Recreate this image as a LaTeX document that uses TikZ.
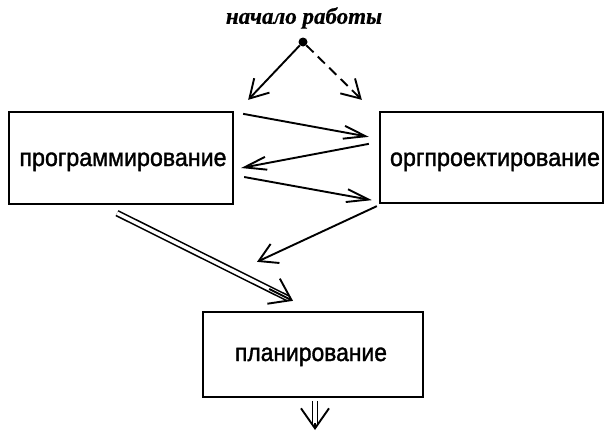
\documentclass[tikz,border=0pt]{standalone}
\usepackage{fontspec}
\setmainfont{Liberation Sans}
\newfontfamily\boxfont{Liberation Sans}[FakeBold=1.5]
\newfontfamily\titlefont{Liberation Serif}[FakeBold=0.6]
\usetikzlibrary{arrows.meta}

\tikzset{
  blockbox/.style={draw, line width=2.3pt, rectangle, inner sep=0pt, minimum width=#1},
  blocktext/.style={inner sep=0pt},
  flow/.style={line width=1.9pt, -{Straight Barb[length=22pt,width=13pt,line width=1.9pt]}},
  wideflow/.style={line width=1.9pt, -{Straight Barb[length=18pt,width=21pt,line width=1.9pt]}},
  flowdash/.style={wideflow, dash pattern=on 10pt off 6pt},
  dblshaft/.style={double, double distance=3.5pt, line width=1.6pt, shorten >=6pt},
  dblhead/.style={line width=1.9pt, shorten <=#1, -{Straight Barb[length=20pt,width=28pt,line width=1.9pt]}},
}

\newcommand{\boxlabel}[2]{\resizebox{#1}{13.5pt}{\boxfont #2}}

\begin{document}
\begin{tikzpicture}[x=1pt, y=-1pt]
  \useasboundingbox (0,0) rectangle (606,431);

  % title and start point
  \node[blocktext] (title) at (304,18) {\titlefont\bfseries\itshape\fontsize{23}{26}\selectfont начало работы};
  \node[circle, fill, inner sep=0pt, minimum size=9pt] (start) at (303,42) {};

  % the three activity blocks
  \node[blockbox=224pt, minimum height=92pt] (prog) at (121,158) {};
  \node[blockbox=223pt, minimum height=91pt] (org) at (491.5,157.5) {};
  \node[blockbox=220pt, minimum height=85pt] (plan) at (313,354.5) {};

  \node[blocktext, anchor=base] (progtxt) at (123,166) {\boxlabel{207pt}{программирование}};
  \node[blocktext, anchor=base] (orgtxt) at (495,166) {\boxlabel{210pt}{оргпроектирование}};
  \node[blocktext, anchor=base] (plantxt) at (311,361) {\boxlabel{152pt}{планирование}};

  % free ends
  \coordinate (leftend) at ([shift={(14,-11)}]prog.north east);
  \coordinate (rightend) at ([shift={(-17,-11)}]org.north west);
  \coordinate (outend) at (315,430);

  % connectors
  \draw[wideflow] (start) -- (leftend);
  \draw[flowdash] (start) -- (rightend);

  \draw[flow] ([shift={(9,3)}]prog.north east) -- ([shift={(-10,26)}]org.north west);
  \draw[flow] ([shift={(-10,33)}]org.north west) -- ([shift={(7,10)}]prog.east);
  \draw[flow] ([shift={(10,19)}]prog.east) -- ([shift={(-7,-4)}]org.south west);
  \draw[wideflow] ([shift={(-2,2)}]org.south west) -- ([shift={(-56,-49)}]plan.north);

  % double arrows: shaft, then the open head on top of it
  \draw[dblshaft] ([shift={(-4,8)}]prog.south) -- ([shift={(-20,-10)}]plan.north);
  \draw[dblhead=170pt] ([shift={(-4,8)}]prog.south) -- ([shift={(-20,-10)}]plan.north);
  \draw[dblshaft] ([shift={(2,3)}]plan.south) -- (outend);
  \draw[dblhead=22pt] ([shift={(2,3)}]plan.south) -- (outend);
\end{tikzpicture}
\end{document}
